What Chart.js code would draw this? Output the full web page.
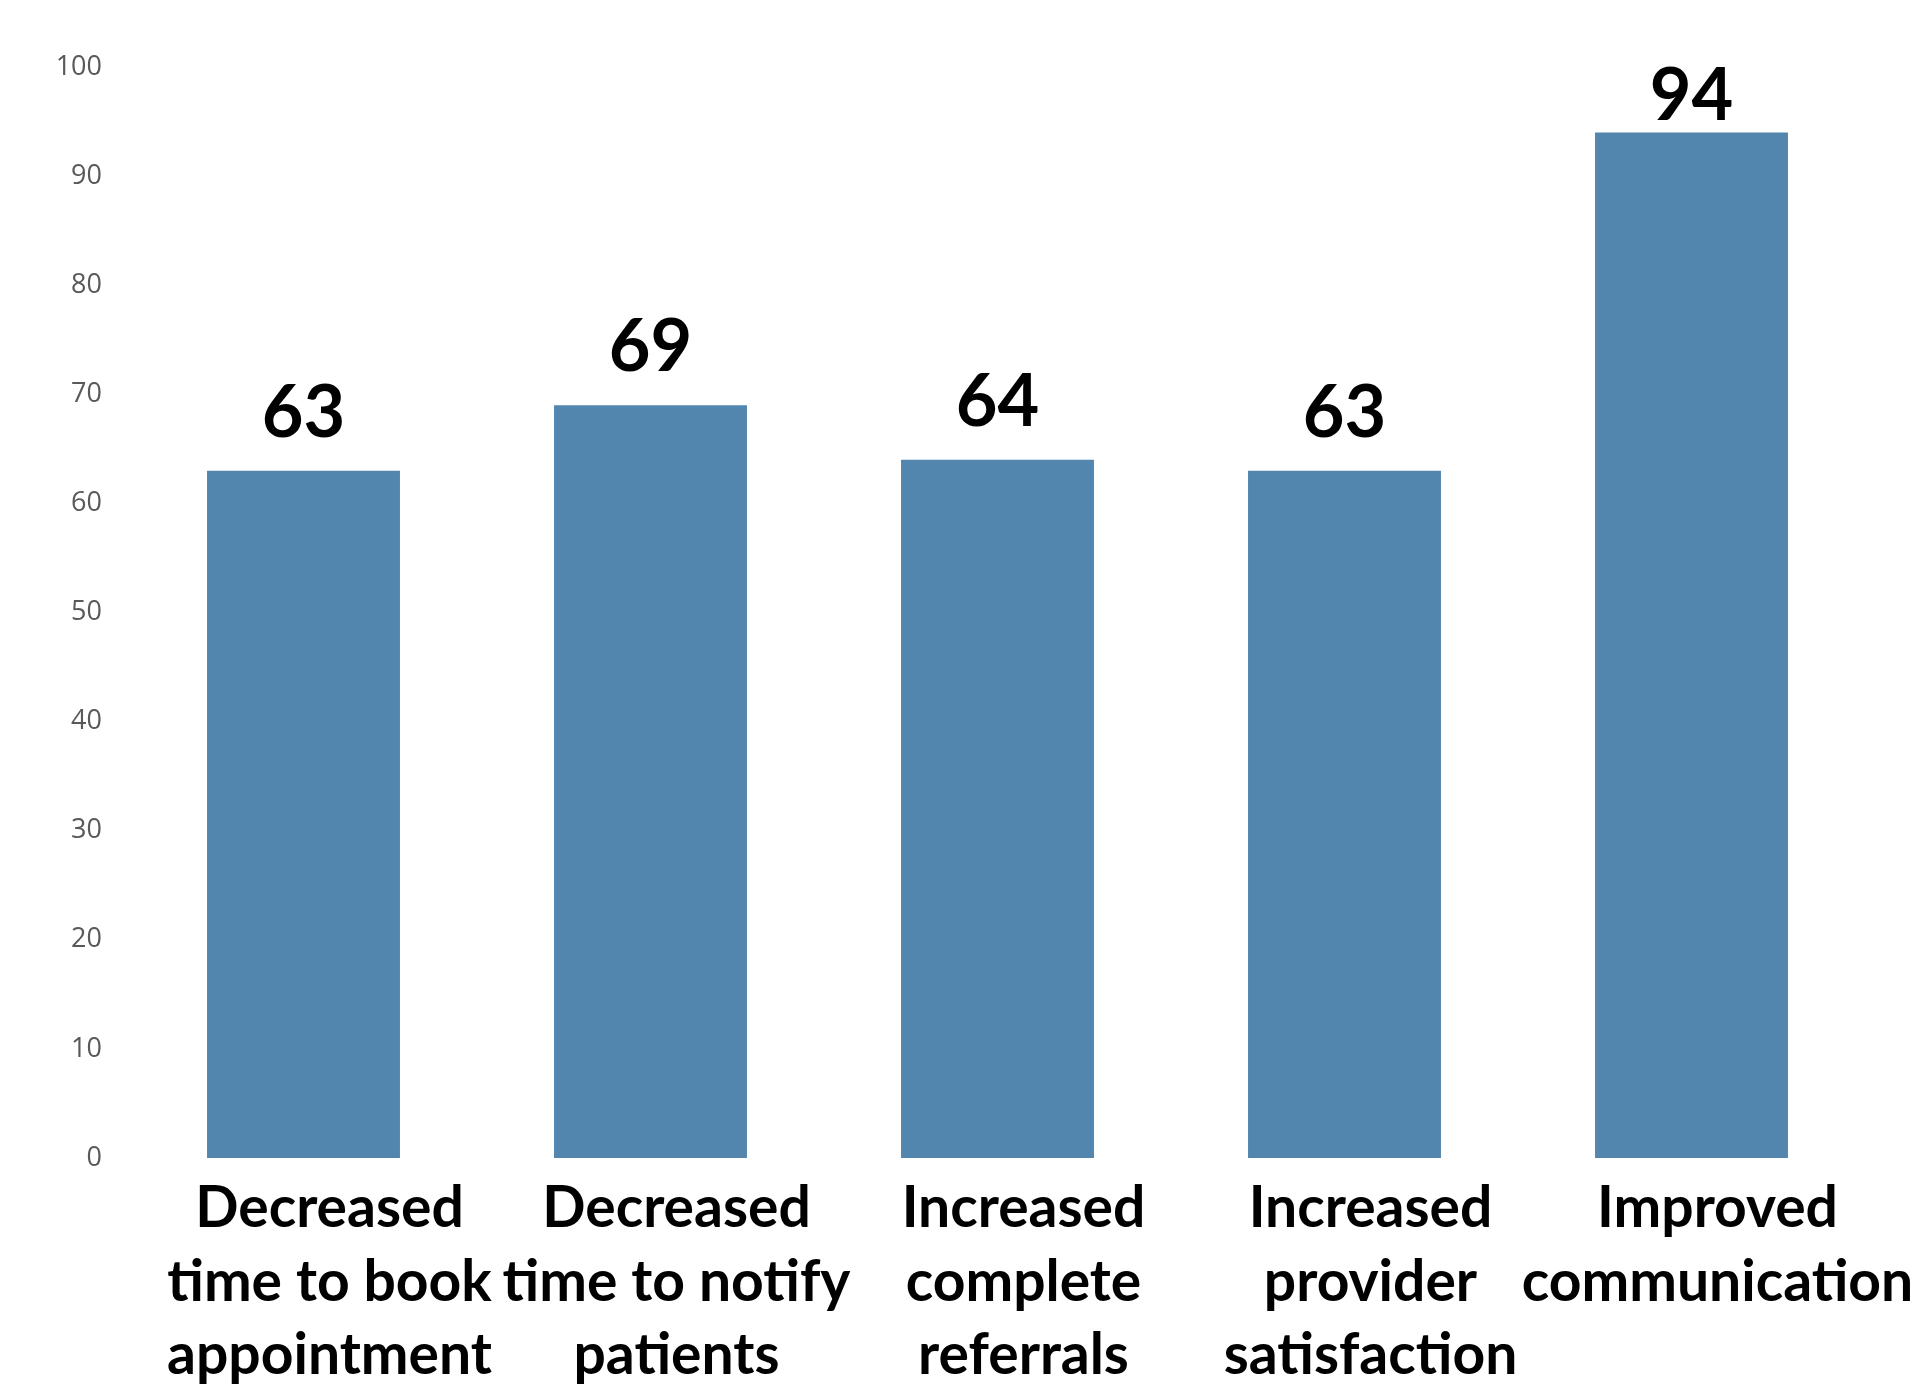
<!DOCTYPE html>
<html>
<head>
<meta charset="utf-8">
<script src="https://cdn.jsdelivr.net/npm/chart.js@4.4.1/dist/chart.umd.min.js"></script>
<style>
  html, body { margin: 0; padding: 0; background: #fff; }
  canvas { display: block; }
</style>
</head>
<body>
<canvas id="outcomesChart" width="1915" height="1389"></canvas>
<script>
const categories = [
    ['Decreased', 'time to book', 'appointment'],
    ['Decreased', 'time to notify', 'patients'],
    ['Increased', 'complete', 'referrals'],
    ['Increased', 'provider', 'satisfaction'],
    ['Improved', 'communication']
];
const values = [63, 69, 64, 63, 94];
const yTicks = [0, 10, 20, 30, 40, 50, 60, 70, 80, 90, 100];

// numbers above each bar, kept inside the plot area at the top
const valueLabels = {
    id: 'valueLabels',
    afterDatasetsDraw(chart) {
        const ctx = chart.ctx;
        const top = chart.chartArea.top;
        const meta = chart.getDatasetMeta(0);
        ctx.save();
        ctx.font = 'bold 72px Lato';
        ctx.fillStyle = '#000';
        ctx.textAlign = 'center';
        ctx.textBaseline = 'alphabetic';
        meta.data.forEach((bar, i) => {
            const y = Math.max(bar.y - 34, top + 53);
            ctx.fillText(String(values[i]), bar.x, y);
        });
        ctx.restore();
    }
};

document.addEventListener('DOMContentLoaded', () => {
    const ctx = document.getElementById('outcomesChart').getContext('2d');
    new Chart(ctx, {
        type: 'bar',
        data: {
            labels: categories,
            datasets: [{
                data: values,
                backgroundColor: '#5386AE',
                borderWidth: 0,
                categoryPercentage: 1,
                barPercentage: 0.556
            }]
        },
        options: {
            responsive: false,
            animation: false,
            layout: { padding: { left: 50, right: 50, top: 67, bottom: 0 } },
            plugins: {
                legend: { display: false },
                tooltip: { enabled: false }
            },
            scales: {
                x: {
                    grid: { display: false },
                    border: { display: false },
                    ticks: {
                        color: '#000',
                        font: { family: 'Lato', weight: 'bold', size: 57, lineHeight: 1.29 },
                        padding: 6,
                        labelOffset: 26,
                        autoSkip: false,
                        minRotation: 0,
                        maxRotation: 0
                    },
                    afterFit: (scale) => {
                        scale.paddingLeft = 0;
                        scale.paddingRight = 0;
                        scale.height = 231;
                    }
                },
                y: {
                    min: 0,
                    max: 100,
                    grid: { display: false },
                    border: { display: false },
                    afterBuildTicks: (scale) => {
                        scale.ticks = yTicks.map(v => ({ value: v }));
                    },
                    ticks: {
                        color: '#595959',
                        font: { family: 'Open Sans', size: 27 },
                        padding: 20
                    },
                    afterFit: (scale) => {
                        scale.width = 80;
                    }
                }
            }
        },
        plugins: [valueLabels]
    });
});
</script>
</body>
</html>
